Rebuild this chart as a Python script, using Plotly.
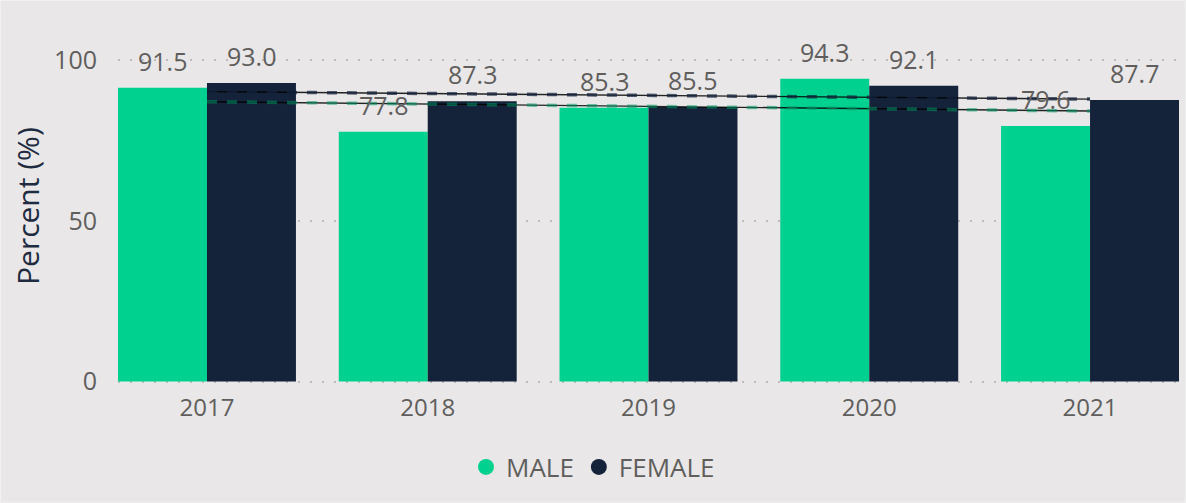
import numpy as np
import plotly.graph_objects as go

years = ["2017", "2018", "2019", "2020", "2021"]
male = [91.5, 77.8, 85.3, 94.3, 79.6]
female = [93.0, 87.3, 85.5, 92.1, 87.7]
y_ticks = [0, 50, 100]

GREEN = "#00D18F"
NAVY = "#14233A"
BG = "#E9E7E8"
GRAY = "#605E5C"
FONT = "Open Sans"

BARGAP = 0.194
half = (1 - BARGAP) / 2  # width of one bar in category units

fig = go.Figure()
fig.add_trace(go.Bar(x=years, y=male, name="MALE", marker=dict(color=GREEN, line=dict(width=0)),
                     showlegend=False, hoverinfo="y"))
fig.add_trace(go.Bar(x=years, y=female, name="FEMALE", marker=dict(color=NAVY, line=dict(width=0)),
                     showlegend=False, hoverinfo="y"))

# linear trend lines derived from the data
idx = np.arange(len(years))
for vals, dash_col in [(female, "rgba(20,35,60,0.72)"), (male, "rgba(0,150,100,0.55)")]:
    k, b = np.polyfit(idx, vals, 1)
    trend = k * idx + b
    fig.add_trace(go.Scatter(x=years, y=trend, mode="lines",
                             line=dict(color="rgba(0,0,0,0.85)", width=1.4),
                             showlegend=False, hoverinfo="skip"))
    fig.add_trace(go.Scatter(x=years, y=trend, mode="lines",
                             line=dict(color=dash_col, width=3.5, dash="10px,10px"),
                             showlegend=False, hoverinfo="skip"))

# legend entries with circular markers
for name, col in [("MALE", GREEN), ("FEMALE", NAVY)]:
    fig.add_trace(go.Scatter(x=[None], y=[None], mode="markers", name=name,
                             marker=dict(symbol="circle", size=21, color=col)))

# value labels
annotations = []
for i, (m, f) in enumerate(zip(male, female)):
    for val, off in [(m, -half / 2), (f, half / 2)]:
        annotations.append(dict(x=i + off, y=val, xref="x", yref="y",
                                text=f"{val:.1f}", showarrow=False,
                                yanchor="bottom", yshift=8,
                                font=dict(family=FONT, size=25, color=GRAY)))

# y-axis title
annotations.append(dict(x=0, y=0.5, xref="paper", yref="paper", text="Percent (%)",
                        textangle=-90, showarrow=False, xanchor="center", yanchor="middle",
                        xshift=-91, yshift=15,
                        font=dict(family=FONT, size=30, color="#1E2B40")))

fig.update_layout(
    width=1184, height=501,
    paper_bgcolor=BG, plot_bgcolor=BG,
    margin=dict(l=117, r=6, t=57.5, b=118.5),
    barmode="group", bargap=BARGAP, bargroupgap=0,
    font=dict(family=FONT, color=GRAY),
    annotations=annotations,
    showlegend=True,
    legend=dict(orientation="h", xref="container", yref="container",
                x=0.5, xanchor="center", y=1 - 466 / 501, yanchor="middle",
                font=dict(family=FONT, size=26, color=GRAY),
                itemwidth=30, bgcolor="rgba(0,0,0,0)", tracegroupgap=0),
    xaxis=dict(type="category", range=[-half, len(years) - 1 + half],
               showgrid=False, zeroline=False, showline=False, ticks="",
               tickfont=dict(family=FONT, size=24, color=GRAY),
               ticklabelstandoff=8, fixedrange=True),
    yaxis=dict(range=[-0.45, 100.45], tickvals=y_ticks, showgrid=True,
               gridcolor="#BEBCBA", gridwidth=2, griddash="2px,10px",
               zeroline=False, showline=False, ticks="",
               tickfont=dict(family=FONT, size=25, color=GRAY),
               ticklabelstandoff=20,
               automargin=False, fixedrange=True),
)

fig.write_html(
    "out.html",
    post_script="document.body.style.margin='0';document.body.style.padding='1px';"
                "document.body.style.background='#F2F1F1';document.body.style.overflow='hidden';",
)
